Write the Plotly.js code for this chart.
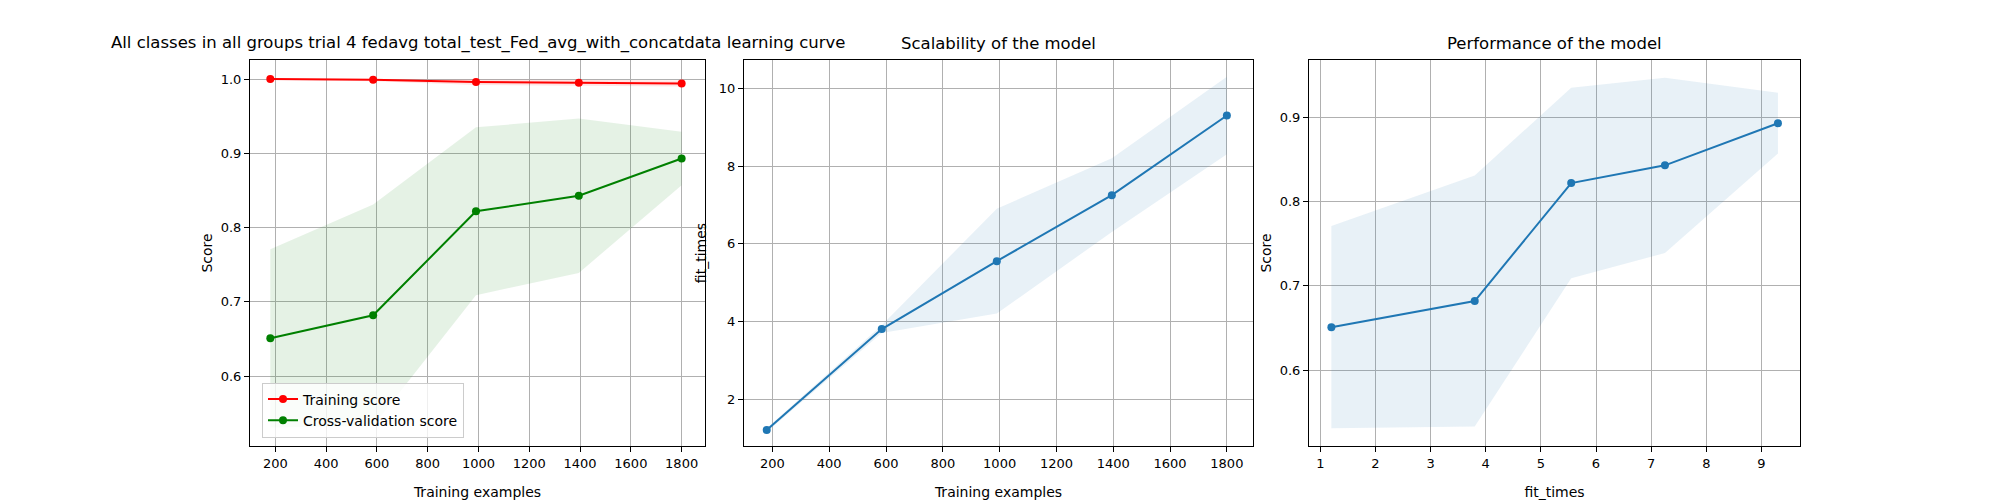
<!DOCTYPE html>
<html><head><script src="https://cdn.plot.ly/plotly-3.0.1.min.js"></script></head>
<body style="margin:0"><div id="c" style="width:2000px;height:500px"></div>
<script>
const trainSizes=[180,585,990,1395,1800];
const trainMean=[1.0,0.999,0.996,0.995,0.994];
const trainUpper=[1.0,1.0,1.0,0.999,0.998];
const trainLower=[0.999,0.997,0.992,0.991,0.990];
const testMean=[0.651,0.682,0.822,0.843,0.893];
const testUpper=[0.771,0.831,0.935,0.947,0.929];
const testLower=[0.531,0.533,0.709,0.739,0.857];
const fitMean=[1.2,3.8,5.55,7.25,9.3];
const fitUpper=[1.25,3.9,6.9,8.2,10.3];
const fitLower=[1.15,3.7,4.2,6.3,8.3];
const titles=["All classes in all groups trial 4 fedavg total_test_Fed_avg_with_concatdata learning curve","Scalability of the model","Performance of the model"];

function band(x,lo,hi,color,xa,ya){
  return {x:x.concat(x.slice().reverse()),y:hi.concat(lo.slice().reverse()),fill:'toself',fillcolor:color,line:{width:0},mode:'lines',hoverinfo:'skip',showlegend:false,xaxis:xa,yaxis:ya};
}
function line(x,y,color,name,xa,ya,leg){
  return {x:x,y:y,mode:'lines+markers',line:{color:color,width:2},marker:{color:color,size:8},name:name,showlegend:!!leg,xaxis:xa,yaxis:ya};
}
const traces=[
  band(trainSizes,trainLower,trainUpper,'rgba(255,0,0,0.1)','x','y'),
  band(trainSizes,testLower,testUpper,'rgba(0,128,0,0.1)','x','y'),
  line(trainSizes,trainMean,'red','Training score','x','y',true),
  line(trainSizes,testMean,'green','Cross-validation score','x','y',true),
  band(trainSizes,fitLower,fitUpper,'rgba(31,119,180,0.1)','x2','y2'),
  line(trainSizes,fitMean,'#1f77b4','fit','x2','y2',false),
  band(fitMean,testLower,testUpper,'rgba(31,119,180,0.1)','x3','y3'),
  line(fitMean,testMean,'#1f77b4','perf','x3','y3',false)
];
const ax={showgrid:true,gridcolor:'#b0b0b0',gridwidth:1,showline:true,linecolor:'black',linewidth:1,mirror:true,ticks:'outside',ticklen:5,tickcolor:'black',zeroline:false,tickfont:{size:13,color:'black'}};
function A(o){return Object.assign({},ax,o);}
const yd=[0.108,0.88];
const layout={
  margin:{l:0,r:0,t:0,b:0},paper_bgcolor:'white',plot_bgcolor:'white',
  font:{family:'DejaVu Sans',color:'black',size:13},
  xaxis:A({domain:[0.125,0.3525],range:[100,1892],tickvals:[200,400,600,800,1000,1200,1400,1600,1800],title:{text:'Training examples',font:{size:14}},anchor:'y'}),
  yaxis:A({domain:yd,range:[0.506,1.0257],tickvals:[0.6,0.7,0.8,0.9,1.0],tickformat:'.1f',title:{text:'Score',font:{size:14}},anchor:'x'}),
  xaxis2:A({domain:[0.372,0.6265],range:[100,1892],tickvals:[200,400,600,800,1000,1200,1400,1600,1800],title:{text:'Training examples',font:{size:14}},anchor:'y2'}),
  yaxis2:A({domain:yd,range:[0.79,10.73],tickvals:[2,4,6,8,10],title:{text:'fit_times',font:{size:14}},anchor:'x2'}),
  xaxis3:A({domain:[0.6545,0.90],range:[0.794,9.70],tickvals:[1,2,3,4,5,6,7,8,9],title:{text:'fit_times',font:{size:14}},anchor:'y3'}),
  yaxis3:A({domain:yd,range:[0.510,0.968],tickvals:[0.6,0.7,0.8,0.9],tickformat:'.1f',title:{text:'Score',font:{size:14}},anchor:'x3'}),
  legend:{x:0.131,y:0.125,xanchor:'left',yanchor:'bottom',bgcolor:'rgba(255,255,255,0.8)',bordercolor:'#cccccc',borderwidth:1,font:{size:14}},
  annotations:[
    {text:titles[0],x:0.2388,y:0.89,xref:'paper',yref:'paper',xanchor:'center',yanchor:'bottom',showarrow:false,font:{size:16.5}},
    {text:titles[1],x:0.49925,y:0.89,xref:'paper',yref:'paper',xanchor:'center',yanchor:'bottom',showarrow:false,font:{size:16.5}},
    {text:titles[2],x:0.77725,y:0.89,xref:'paper',yref:'paper',xanchor:'center',yanchor:'bottom',showarrow:false,font:{size:16.5}}
  ]
};
Plotly.newPlot('c',traces,layout,{staticPlot:true});
</script></body></html>
